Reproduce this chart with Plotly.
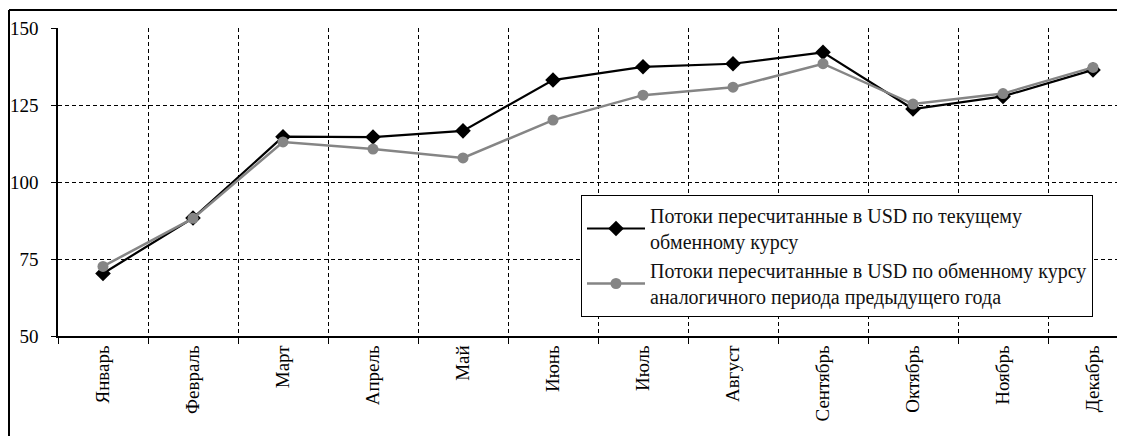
import plotly.graph_objects as go

months = ["Январь", "Февраль", "Март", "Апрель", "Май", "Июнь", "Июль",
          "Август", "Сентябрь", "Октябрь", "Ноябрь", "Декабрь"]
current_rate = [70.3, 88.3, 114.7, 114.6, 116.6, 133.1, 137.4, 138.4, 142.1, 123.7, 127.8, 136.4]
prev_year_rate = [72.6, 88.2, 113.0, 110.7, 107.8, 120.1, 128.2, 130.8, 138.4, 125.3, 128.7, 137.2]
name_current = "Потоки пересчитанные в USD по текущему<br>обменному курсу"
name_prev = "Потоки пересчитанные в USD по обменному курсу<br>аналогичного периода предыдущего года"
y_ticks = [50, 75, 100, 125, 150]

# page has an 8px body margin; figure coordinates = page coordinates - 8
OFF = 8
W, H = 1125, 436
L, T = 58 - OFF, 28 - OFF
B = H - (336 - OFF)
R = OFF
pw = W - L - R
ph = H - T - B
cat_px = 90.0

FONT = "Liberation Serif"

fig = go.Figure()
fig.add_trace(go.Scatter(
    x=months, y=current_rate, name=name_current, mode="lines+markers",
    line=dict(color="#000000", width=2.2),
    marker=dict(symbol="diamond", size=12, color="#000000"),
))
fig.add_trace(go.Scatter(
    x=months, y=prev_year_rate, name=name_prev, mode="lines+markers",
    line=dict(color="#858585", width=2.5),
    marker=dict(symbol="circle", size=11, color="#858585"),
))

# outer frame (left and top edges visible)
fx = (8 - OFF + 1 - L) / pw
fy = 1 + (T - (10 - OFF)) / ph
fig.add_shape(type="line", xref="paper", yref="paper", x0=fx, x1=fx, y0=fy, y1=-0.6,
              line=dict(color="black", width=2))
fig.add_shape(type="line", xref="paper", yref="paper", x0=fx, x1=1.2, y0=fy, y1=fy,
              line=dict(color="black", width=2))

fig.update_layout(
    width=W, height=H,
    margin=dict(l=L, r=R, t=T, b=B, pad=0, autoexpand=False),
    paper_bgcolor="white", plot_bgcolor="white",
    font=dict(family=FONT, size=19, color="black"),
    showlegend=True,
    legend=dict(
        x=(581 - OFF - L) / pw, y=1 - (195 - OFF - T) / ph, xanchor="left", yanchor="top",
        bordercolor="black", borderwidth=1, bgcolor="white",
        font=dict(family=FONT, size=20, color="#111111"),
        tracegroupgap=0, itemwidth=58,
    ),
    xaxis=dict(
        type="category", range=[-0.5, -0.5 + pw / cat_px], automargin=False,
        tickson="boundaries", ticks="outside", ticklen=6, tickcolor="black",
        showline=True, linecolor="black", linewidth=1.5,
        showgrid=True, gridcolor="black", gridwidth=1, griddash="4px,3px",
        tickangle=-90, tickfont=dict(family=FONT, size=19, color="black"),
        zeroline=False,
    ),
    yaxis=dict(
        range=[50, 150], tickvals=y_ticks, ticks="outside", ticklen=5, tickcolor="black",
        showline=True, linecolor="black", linewidth=1.5, automargin=False,
        showgrid=True, gridcolor="black", gridwidth=1, griddash="4px,3px",
        tickfont=dict(family=FONT, size=19, color="black"),
        ticklabelstandoff=9,
        zeroline=False,
    ),
)

fig.write_html("out.html")
